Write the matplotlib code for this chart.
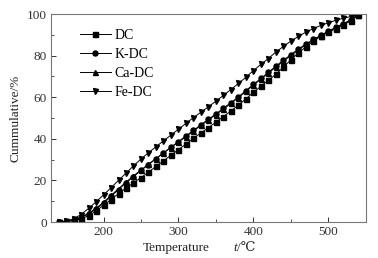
import matplotlib
matplotlib.use("Agg")
import matplotlib.pyplot as plt
from matplotlib.ticker import MultipleLocator

plt.rcParams['font.family'] = ['Liberation Serif', 'DejaVu Serif']

temps = [140, 150, 160, 170, 180, 190, 200, 210, 220, 230, 240, 250, 260, 270,
         280, 290, 300, 310, 320, 330, 340, 350, 360, 370, 380, 390, 400, 410,
         420, 430, 440, 450, 460, 470, 480, 490, 500, 510, 520, 530, 540]
dc = [0, 0.2, 0.7, 1.5, 3, 5.3, 8, 10.8, 13.6, 16.3, 18.8, 21.3, 24, 26.7,
      29.4, 32.1, 34.8, 37.5, 40.2, 42.8, 45.4, 48, 50.7, 53.4, 56.2, 59.2, 62.3, 65.3,
      68.2, 71, 74.5, 78, 81.3, 84.2, 87, 89.3, 91.2, 93, 94.8, 96.7, 99.5]
k_dc = [0, 0.2, 0.9, 2, 3.8, 6.2, 9, 12.3, 15.6, 18.8, 21.8, 24.8, 27.6, 30.4,
        33.2, 36, 38.7, 41.4, 44, 46.8, 49.4, 52, 54.7, 57.4, 60.2, 63.2, 66.2, 69,
        72, 75, 77.8, 80.5, 83.2, 85.6, 87.8, 89.8, 91.8, 93.6, 95.4, 97.2, 99.5]
ca_dc = [0, 0.3, 1.1, 2.3, 4.2, 6.6, 9.5, 12.8, 16, 19.2, 22.2, 25, 27.8, 30.5,
         33.2, 35.8, 38.4, 41, 43.7, 46.4, 49, 51.6, 54.3, 57, 59.8, 62.8, 65.8, 68.7,
         71.6, 74.5, 77.3, 80, 82.7, 85.2, 87.5, 89.6, 91.6, 93.5, 95.3, 97, 99.5]
fe_dc = [0, 0.3, 1.5, 3.6, 6.5, 9.7, 13, 16.5, 20, 23.5, 27, 30.3, 33.3, 36.2,
         39, 41.8, 44.6, 47.4, 50.2, 52.8, 55.4, 58.1, 60.9, 63.7, 66.6, 69.6, 72.8, 75.8,
         78.6, 81.8, 84.4, 87, 89.2, 91.3, 93, 94.5, 95.8, 97, 98, 98.8, 99.5]

series = [("DC", dc, 's'), ("K-DC", k_dc, 'o'), ("Ca-DC", ca_dc, '^'), ("Fe-DC", fe_dc, 'v')]

fig = plt.figure(figsize=(3.78, 2.58), dpi=100)
ax = fig.add_axes([0.135, 0.1395, 0.833, 0.8062])

for name, vals, m in series:
    ax.plot(temps, vals, color='black', lw=0.7, marker=m, ms=3.6, label=name)

ax.set_xlim(130, 550)
ax.set_ylim(0, 100)
ax.xaxis.set_major_locator(MultipleLocator(100))
ax.xaxis.set_minor_locator(MultipleLocator(50))
ax.yaxis.set_major_locator(MultipleLocator(20))
ax.yaxis.set_minor_locator(MultipleLocator(10))
ax.tick_params(which='both', direction='in', labelsize=9.5, colors='#333333', pad=3)
ax.tick_params(which='major', length=3.5, width=0.7)
ax.tick_params(which='minor', length=2, width=0.6)
for s in ax.spines.values():
    s.set_color('#777777')
    s.set_linewidth(0.8)

leg = ax.legend(loc='upper left', bbox_to_anchor=(0.092, 0.93), frameon=False,
                fontsize=10, handlelength=2.2, handletextpad=0.3,
                labelspacing=0.45, borderaxespad=0, borderpad=0)

fig.text(16/378, 1 - 118/258, "Cummulative/%", rotation=90, ha='center', va='center',
         fontsize=9.5, color='#222222')
fig.text(176/378, 1 - 248/258, "Temperature", ha='center', va='center',
         fontsize=9.5, color='#222222')
fig.text(233/378, 1 - 248/258, "t", ha='left', va='center', style='italic',
         fontsize=9.5, color='#222222')
fig.text(237.5/378, 1 - 248/258, "/℃", ha='left', va='center',
         fontsize=9.5, color='#222222')

fig.savefig("out.png", dpi=100)
